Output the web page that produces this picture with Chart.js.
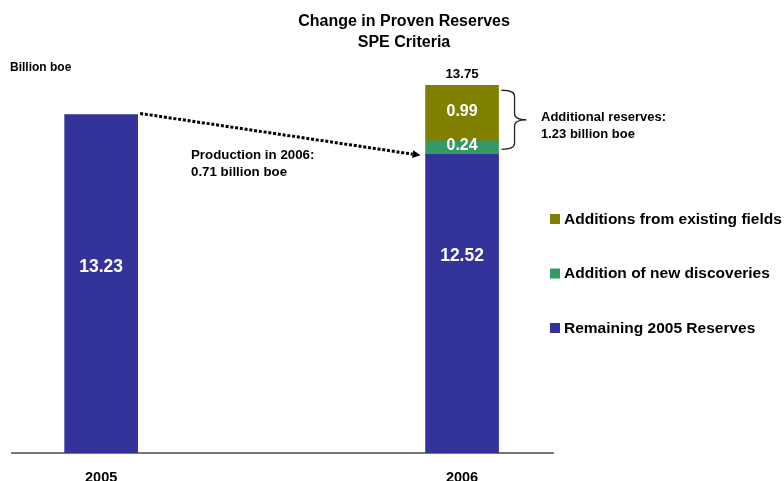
<!DOCTYPE html>
<html>
<head>
<meta charset="utf-8">
<script src="https://cdn.jsdelivr.net/npm/chart.js@4/dist/chart.umd.min.js"></script>
<style>
  html, body { margin: 0; padding: 0; background: #ffffff; }
  canvas { display: block; }
</style>
</head>
<body>
<canvas id="chart" width="784" height="481"></canvas>
<script>
// Proven reserves, billion barrels of oil equivalent
const years = ['2005', '2006'];
const remainingReserves = [13.23, 12.52];
const newDiscoveries = [null, 0.24];
const existingFields = [null, 0.99];
const seriesNames = ['Remaining 2005 Reserves', 'Addition of new discoveries', 'Additions from existing fields'];
const seriesColors = ['#333399', '#339966', '#808000'];
const titleLines = ['Change in Proven Reserves', 'SPE Criteria'];
const unitLabel = 'Billion boe';

const FAMILY = "'Liberation Sans', Arial, Helvetica, sans-serif";
const bold = (px) => `bold ${px}px ${FAMILY}`;
const fmt = (v) => v.toFixed(2);

// Text, connector arrow, brace and legend drawn on top of the bars
const annotations = {
  id: 'annotations',
  afterDatasetsDraw(chart) {
    const { ctx, chartArea } = chart;
    const base = chart.getDatasetMeta(0).data;
    const mid = chart.getDatasetMeta(1).data;
    const top = chart.getDatasetMeta(2).data;
    ctx.save();
    ctx.textBaseline = 'middle';

    // title
    ctx.fillStyle = '#000';
    ctx.textAlign = 'center';
    ctx.font = bold(16);
    ctx.fillText(titleLines[0], 404, 22);
    ctx.fillText(titleLines[1], 404, 43);

    // unit label
    ctx.textAlign = 'left';
    ctx.font = bold(12);
    ctx.fillText(unitLabel, 10, 68);

    // values inside the base bars
    const labelFrac = [0.45, 0.34];
    ctx.fillStyle = '#ffffff';
    ctx.textAlign = 'center';
    ctx.font = bold(17.5);
    base.forEach((bar, i) => {
      const bottom = Math.min(bar.base, chartArea.bottom);
      ctx.fillText(fmt(remainingReserves[i]), bar.x, bar.y + (bottom - bar.y) * labelFrac[i]);
    });

    // values inside the stacked additions
    ctx.font = bold(16);
    const g = mid[1], o = top[1];
    ctx.fillText(fmt(newDiscoveries[1]), g.x, (g.y + g.base) / 2 - 1.5);
    ctx.fillText(fmt(existingFields[1]), o.x, (o.y + o.base) / 2 - 1.5);

    // total above the 2006 stack
    const total = remainingReserves[1] + newDiscoveries[1] + existingFields[1];
    ctx.fillStyle = '#000';
    ctx.font = bold(13.3);
    ctx.fillText(fmt(total), o.x, o.y - 11);

    // dotted production arrow from the 2005 top to the 2006 remaining top
    const sx = base[0].x + base[0].width / 2 + 2.5, sy = base[0].y - 1;
    const ex = base[1].x - base[1].width / 2 - 5, ey = base[1].y + 1;
    const ang = Math.atan2(ey - sy, ex - sx);
    const headLen = 8;
    const lx = ex - headLen * Math.cos(ang), ly = ey - headLen * Math.sin(ang);
    ctx.strokeStyle = '#000';
    ctx.lineWidth = 3;
    ctx.setLineDash([3, 1.8]);
    ctx.beginPath();
    ctx.moveTo(sx, sy);
    ctx.lineTo(lx, ly);
    ctx.stroke();
    ctx.setLineDash([]);
    ctx.fillStyle = '#000';
    ctx.beginPath();
    ctx.moveTo(ex, ey);
    ctx.lineTo(lx + 4 * Math.sin(ang), ly - 4 * Math.cos(ang));
    ctx.lineTo(lx - 4 * Math.sin(ang), ly + 4 * Math.cos(ang));
    ctx.closePath();
    ctx.fill();

    // production note
    const production = remainingReserves[0] - remainingReserves[1];
    ctx.textAlign = 'left';
    ctx.font = bold(13.3);
    ctx.fillText('Production in 2006:', 191, 155);
    ctx.fillText(fmt(production) + ' billion boe', 191, 172);

    // curly brace spanning the additions
    const bx0 = o.x + o.width / 2 + 3;
    const by1 = o.y + 5, by2 = g.base - 5, bym = (by1 + by2) / 2;
    const spine = bx0 + 13, tip = bx0 + 25, r = 6;
    ctx.strokeStyle = '#222';
    ctx.lineWidth = 1.3;
    ctx.beginPath();
    ctx.moveTo(bx0, by1);
    ctx.quadraticCurveTo(spine, by1, spine, by1 + r);
    ctx.lineTo(spine, bym - r);
    ctx.quadraticCurveTo(spine, bym, tip, bym);
    ctx.quadraticCurveTo(spine, bym, spine, bym + r);
    ctx.lineTo(spine, by2 - r);
    ctx.quadraticCurveTo(spine, by2, bx0, by2);
    ctx.stroke();

    // additions note
    const additions = newDiscoveries[1] + existingFields[1];
    ctx.font = bold(13);
    ctx.fillText('Additional reserves:', 541, 117);
    ctx.fillText(fmt(additions) + ' billion boe', 541, 134);

    // legend, newest series first
    ctx.font = bold(15.5);
    const ds = chart.data.datasets;
    for (let k = 0; k < ds.length; k++) {
      const d = ds[ds.length - 1 - k];
      const ly2 = 219 + k * 54.5;
      ctx.fillStyle = d.backgroundColor;
      ctx.fillRect(550, ly2 - 5, 10, 10);
      ctx.fillStyle = '#000';
      ctx.fillText(d.label, 564, ly2 + 0.5);
    }
    ctx.restore();
  }
};

new Chart(document.getElementById('chart'), {
  type: 'bar',
  data: {
    labels: years,
    datasets: [
      { label: seriesNames[0], data: remainingReserves, backgroundColor: seriesColors[0] },
      { label: seriesNames[1], data: newDiscoveries, backgroundColor: seriesColors[1] },
      { label: seriesNames[2], data: existingFields, backgroundColor: seriesColors[2] }
    ]
  },
  options: {
    responsive: false,
    animation: false,
    devicePixelRatio: 1,
    barThickness: 73,
    layout: { padding: { left: 12, right: 231, top: 60, bottom: 0 } },
    plugins: {
      legend: { display: false },
      title: { display: false },
      tooltip: { enabled: false }
    },
    scales: {
      x: {
        type: 'linear',
        stacked: true,
        offset: false,
        min: 2004.753,
        max: 2006.252,
        grid: { display: false, offset: false },
        border: { display: true, color: '#777777', width: 2 },
        afterBuildTicks: (s) => { s.ticks = years.map((v) => ({ value: +v })); },
        afterFit: (s) => { s.height = 28; },
        ticks: {
          callback: (v) => String(v),
          color: '#000',
          font: { family: FAMILY, size: 14.5, weight: 'bold' },
          padding: 8,
          maxRotation: 0,
          autoSkip: false
        }
      },
      y: {
        display: false,
        stacked: true,
        min: 7.2,
        max: 14.2
      }
    }
  },
  plugins: [annotations]
});
</script>
</body>
</html>
